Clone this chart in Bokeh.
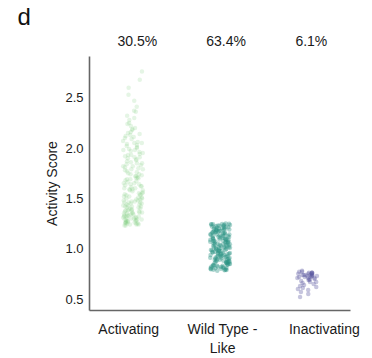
from bokeh.plotting import figure
from bokeh.models import ColumnDataSource, FixedTicker, LinearAxis, Range1d
from bokeh.transform import jitter
from bokeh.embed import file_html
from bokeh.resources import INLINE

categories = ["Activating", "Wild Type -\nLike", "Inactivating"]
percent_labels = ["30.5%", "63.4%", "6.1%"]

activating = [1.23, 1.24, 1.25, 1.25, 1.26, 1.27, 1.28, 1.28, 1.29, 1.30, 1.31, 1.32, 1.33, 1.33,
              1.34, 1.35, 1.36, 1.37, 1.38, 1.39, 1.40, 1.41, 1.42, 1.43, 1.44, 1.45, 1.46, 1.47,
              1.48, 1.49, 1.50, 1.51, 1.52, 1.53, 1.54, 1.55, 1.56, 1.58, 1.59, 1.60, 1.61, 1.62,
              1.64, 1.65, 1.66, 1.68, 1.69, 1.70, 1.72, 1.73, 1.74, 1.76, 1.77, 1.79, 1.80, 1.82,
              1.83, 1.85, 1.86, 1.88, 1.89, 1.91, 1.92, 1.94, 1.95, 1.97, 1.98, 2.00, 2.02, 2.03,
              2.05, 2.07, 2.09, 2.10, 2.12, 2.14, 2.16, 2.18, 2.20, 2.22, 2.25, 2.28, 2.32, 2.36,
              2.41, 2.47, 2.53, 2.60, 2.68, 2.76,
              1.24, 1.26, 1.27, 1.29, 1.31, 1.32, 1.35, 1.37, 1.40, 1.42, 1.44, 1.47, 1.50, 1.53,
              1.57, 1.63, 1.67, 1.71, 1.75, 1.81, 1.87, 1.93, 1.99, 2.04, 2.11,
              1.23, 1.25, 1.28, 1.30, 1.34, 1.36, 1.39, 1.43, 1.46, 1.52, 1.58, 1.62, 1.70, 1.78,
              1.84, 1.90, 1.96, 2.06, 2.15, 2.24,
              1.24, 1.26, 1.29, 1.31, 1.33, 1.36, 1.38, 1.41, 1.45, 1.48, 1.51, 1.55, 1.60, 1.65,
              1.69, 1.74, 1.79, 1.85, 1.91, 1.98, 2.05, 2.13, 2.19, 2.30, 2.37,
              1.25, 1.27, 1.30, 1.32, 1.35, 1.38, 1.42, 1.46, 1.49, 1.54, 1.59, 1.64, 1.72, 1.82,
              1.93, 2.01]

wild_type = [0.78, 0.79, 0.80, 0.81, 0.82, 0.83, 0.84, 0.85, 0.86, 0.87, 0.88, 0.89, 0.90, 0.91,
             0.92, 0.93, 0.94, 0.95, 0.96, 0.97, 0.98, 0.99, 1.00, 1.01, 1.02, 1.03, 1.04, 1.05,
             1.06, 1.07, 1.08, 1.09, 1.10, 1.11, 1.12, 1.13, 1.14, 1.15, 1.16, 1.17, 1.18, 1.19,
             1.20, 1.21, 1.22, 1.23, 1.24, 1.25,
             0.785, 0.805, 0.823, 0.847, 0.862, 0.884, 0.905, 0.921, 0.944, 0.963, 0.986, 1.004,
             1.027, 1.045, 1.066, 1.083, 1.105, 1.126, 1.144, 1.167, 1.183, 1.204, 1.226, 1.245,
             0.792, 0.815, 0.836, 0.853, 0.874, 0.896, 0.913, 0.935, 0.957, 0.975, 0.993, 1.015,
             1.036, 1.054, 1.074, 1.095, 1.116, 1.135, 1.155, 1.175, 1.196, 1.214, 1.235, 1.248,
             0.81, 0.84, 0.87, 0.90, 0.93, 0.96, 0.99, 1.02, 1.05, 1.08, 1.11, 1.14, 1.17, 1.20,
             1.23, 0.80, 0.83, 0.86, 0.89, 0.92, 0.95, 0.98, 1.01, 1.04, 1.07, 1.10, 1.13, 1.16,
             1.19, 1.22,
             0.788, 0.812, 0.831, 0.857, 0.878, 0.893, 0.917, 0.938, 0.952, 0.978, 0.997, 1.012,
             1.033, 1.058, 1.071, 1.092, 1.112, 1.138, 1.152, 1.178, 1.192, 1.218, 1.238, 1.242,
             0.797, 0.818, 0.842, 0.866, 0.881, 0.908, 0.926, 0.947, 0.968, 0.982, 1.008, 1.024,
             1.042, 1.063, 1.087, 1.102, 1.122, 1.147, 1.162, 1.186, 1.208, 1.229, 1.243, 0.795]

inactivating = [0.52, 0.55, 0.57, 0.59, 0.60, 0.61, 0.62, 0.63, 0.64, 0.65, 0.66, 0.67, 0.68,
                0.69, 0.70, 0.70, 0.71, 0.71, 0.72, 0.72, 0.73, 0.73, 0.73, 0.74, 0.74, 0.74,
                0.75, 0.75, 0.75, 0.76, 0.76, 0.77, 0.77, 0.78, 0.72, 0.74, 0.76, 0.69, 0.67,
                0.73, 0.75, 0.76, 0.74, 0.71]

group_values = [activating, wild_type, inactivating]
colors = ["#7ccb7c", "#2a9484", "#5b5aa0"]
alphas = [0.2, 0.38, 0.35]

label_pos = [-0.05, 1.03, 2.2]
pct_pos = [0.05, 1.07, 2.05]

p = figure(width=372, height=358, output_backend="svg", toolbar_location=None,
           x_range=Range1d(-0.5, 2.5), y_range=Range1d(0.386, 2.91),
           min_border_left=89, min_border_right=22, min_border_top=52, min_border_bottom=41)

for i, vals in enumerate(group_values):
    src = ColumnDataSource(dict(x=[i] * len(vals), y=vals))
    p.scatter(x=jitter("x", width=0.23, distribution="uniform"), y="y", source=src,
              size=4.5, fill_color=colors[i], fill_alpha=alphas[i], line_color=None)

p.grid.visible = False
p.outline_line_color = None
p.background_fill_color = "white"
p.border_fill_color = "white"

# bottom axis
xa = p.xaxis[0]
xa.ticker = FixedTicker(ticks=label_pos)
xa.major_label_overrides = {label_pos[i]: categories[i] for i in range(3)}
xa.major_tick_line_color = None
xa.minor_tick_line_color = None
xa.major_tick_out = 0
xa.major_tick_in = 0
xa.minor_tick_out = 0
xa.axis_line_color = "#666666"
xa.axis_line_width = 1.6
xa.major_label_text_font = "Liberation Sans"
xa.major_label_text_font_size = "14px"
xa.major_label_text_color = "#1a1a1a"
xa.major_label_standoff = 10

# left axis
ya = p.yaxis[0]
ya.ticker = FixedTicker(ticks=[0.5, 1.0, 1.5, 2.0, 2.5])
ya.major_label_overrides = {0.5: "0.5", 1.0: "1.0", 1.5: "1.5", 2.0: "2.0", 2.5: "2.5"}
ya.major_tick_line_color = None
ya.minor_tick_line_color = None
ya.major_tick_out = 0
ya.major_tick_in = 0
ya.minor_tick_out = 0
ya.axis_line_color = "#666666"
ya.axis_line_width = 1.6
ya.major_label_text_font = "Liberation Sans"
ya.major_label_text_font_size = "13px"
ya.major_label_text_color = "#1a1a1a"
ya.major_label_standoff = 6
ya.axis_label = "Activity Score"
ya.axis_label_text_font = "Liberation Sans"
ya.axis_label_text_font_size = "14px"
ya.axis_label_text_font_style = "normal"
ya.axis_label_text_color = "#1a1a1a"
ya.axis_label_standoff = 2

# top percentages
ta = LinearAxis(ticker=FixedTicker(ticks=pct_pos),
                major_label_overrides={pct_pos[i]: percent_labels[i] for i in range(3)})
ta.axis_line_color = None
ta.major_tick_line_color = None
ta.minor_tick_line_color = None
ta.major_tick_out = 0
ta.major_tick_in = 0
ta.minor_tick_out = 0
ta.major_label_text_font = "Liberation Sans"
ta.major_label_text_font_size = "14px"
ta.major_label_text_color = "#1a1a1a"
ta.major_label_standoff = 8
p.add_layout(ta, "above")

p.title.text = "d"
p.title.text_font = "Liberation Sans"
p.title.text_font_size = "24px"
p.title.text_font_style = "normal"
p.title.text_color = "#111111"
p.title.offset = -72
p.title.standoff = 0

open("out.html", "w").write(file_html(p, INLINE))
